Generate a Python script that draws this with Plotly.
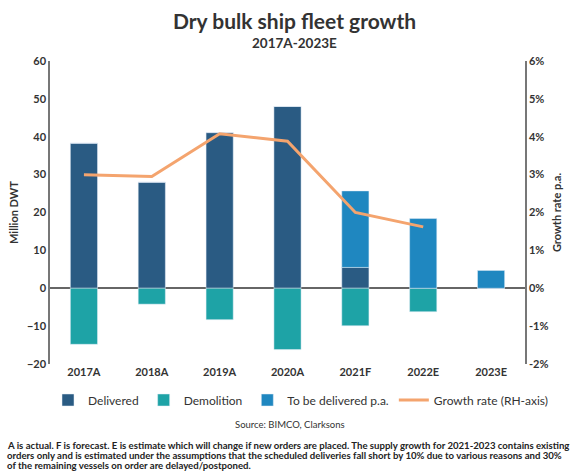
import plotly.graph_objects as go

categories = ["2017A", "2018A", "2019A", "2020A", "2021F", "2022E", "2023E"]
delivered = [38.3, 28.0, 41.1, 48.0, 5.5, 0, 0]
to_be_delivered = [0, 0, 0, 0, 20.2, 18.4, 4.7]
demolition = [-14.8, -4.2, -8.3, -16.2, -9.9, -6.2, 0]
growth_rate = [3.0, 2.95, 4.08, 3.88, 2.0, 1.62, None]

left_ticks = [-20, -10, 0, 10, 20, 30, 40, 50, 60]
right_ticks = [-2, -1, 0, 1, 2, 3, 4, 5, 6]
right_labels = ["-2%", "-1%", "0%", "1%", "2%", "3%", "4%", "5%", "6%"]

footnote_lines = [
    "A is actual. F is forecast. E is estimate which will change if new orders are placed. "
    "The supply growth for 2021-2023 contains existing",
    "orders only and is estimated under the assumptions that the scheduled deliveries fall "
    "short by 10% due to various reasons and 30%",
    "of the remaining vessels on order are delayed/postponed.",
]

C_DEL = "#2a5b83"
C_DEM = "#1ea3a6"
C_TBD = "#1f87c0"
C_GR = "#f4a46e"
TXT = "#333333"
FONT = "Lato"

fig = go.Figure()
fig.add_bar(x=categories, y=delivered, name="Delivered", marker_color=C_DEL,
            width=0.4)
fig.add_bar(x=categories, y=demolition, name="Demolition", marker_color=C_DEM,
            width=0.4)
fig.add_bar(x=categories, y=to_be_delivered, name="To be delivered p.a.",
            marker_color=C_TBD, width=0.4)
fig.add_scatter(x=categories, y=growth_rate, name="Growth rate (RH-axis)",
                mode="lines", line=dict(color=C_GR, width=3), yaxis="y2")

PH = 303.0
PW = 475.0
fig.update_layout(
    width=576, height=471,
    barmode="relative",
    paper_bgcolor="white", plot_bgcolor="white",
    font=dict(family=FONT, color=TXT, size=11),
    margin=dict(l=50, r=51, t=61, b=107),
    showlegend=True,
    legend=dict(orientation="h", x=(48 - 50) / PW, xanchor="left",
                y=-(400 - 364) / PH, yanchor="middle",
                font=dict(size=12, family=FONT),
                traceorder="normal", itemwidth=30, tracegroupgap=0),
    xaxis=dict(showline=False, ticks="", showgrid=False,
               tickfont=dict(size=11, family=FONT, weight="bold")),
    yaxis=dict(range=[-20, 60], tickvals=left_ticks, showgrid=False,
               showline=True, linecolor="#777", linewidth=1.5,
               zeroline=True, zerolinecolor="#666", zerolinewidth=1.5,
               ticks="", tickfont=dict(size=11, family=FONT, weight="bold"),
               title=dict(text="Million DWT", standoff=6,
                          font=dict(size=11, family=FONT, weight="bold"))),
    yaxis2=dict(range=[-2, 6], tickvals=right_ticks, ticktext=right_labels,
                overlaying="y", side="right", showgrid=False, zeroline=False,
                showline=True, linecolor="#777", linewidth=1.5, ticks="",
                tickfont=dict(size=11, family=FONT, weight="bold"),
                title=dict(text="Growth rate p.a.", standoff=6,
                           font=dict(size=11, family=FONT, weight="bold"))),
)

fig.add_annotation(text="<b>Dry bulk ship fleet growth</b>", xref="paper", yref="paper",
                   x=(294 - 50) / PW, y=1.0 + (61 - 21) / PH, xanchor="center",
                   yanchor="middle", showarrow=False,
                   font=dict(size=21, family=FONT, color=TXT))
fig.add_annotation(text="<b>2017A-2023E</b>", xref="paper", yref="paper",
                   x=(294 - 50) / PW, y=1.0 + (61 - 43) / PH, xanchor="center",
                   yanchor="middle", showarrow=False,
                   font=dict(size=13.5, family=FONT, color=TXT))
fig.add_annotation(text="Source: BIMCO, Clarksons", xref="paper", yref="paper",
                   x=(290 - 50) / PW, y=-(425 - 364) / PH, xanchor="center",
                   yanchor="middle", showarrow=False,
                   font=dict(size=9.5, family=FONT, color=TXT))
for i, line in enumerate(footnote_lines):
    fig.add_annotation(
        text=line, xref="paper", yref="paper", x=(5 - 50) / PW,
        y=-(445 + 10.3 * i - 364) / PH, xanchor="left", yanchor="middle",
        align="left", showarrow=False,
        font=dict(size=9.6, family=FONT, color="#222", weight="bold"))

fig.write_html("out.html", config={"displayModeBar": False},
               post_script="document.body.style.margin='0';")
